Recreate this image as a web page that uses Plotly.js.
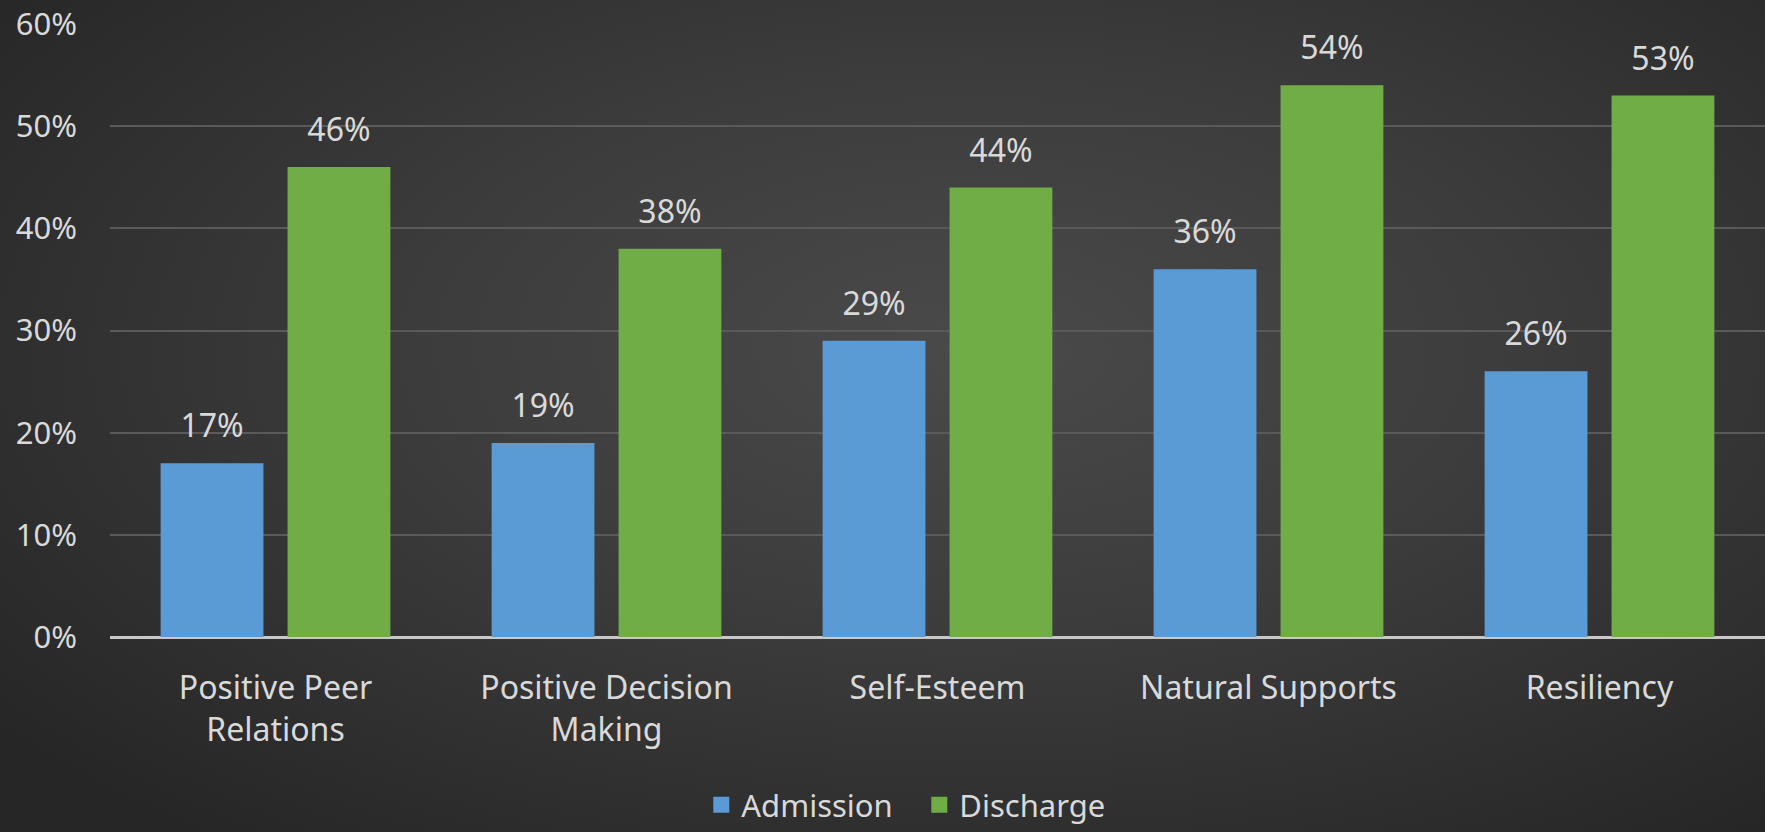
<!DOCTYPE html>
<html>
<head>
<meta charset="utf-8">
<script src="https://cdn.plot.ly/plotly-3.0.1.min.js"></script>
<style>
  html, body { margin: 0; padding: 0; background: #2a2a2a; }
  #chart {
    width: 1765px; height: 832px;
    background: radial-gradient(ellipse 70% 75% at 55% 42%, #4a4a4a 0%, #3c3c3c 45%, #2e2e2e 80%, #262626 100%);
  }
</style>
</head>
<body>
<div id="chart"></div>
<script>
const categories = ["Positive Peer<br>Relations", "Positive Decision<br>Making", "Self-Esteem", "Natural Supports", "Resiliency"];
const seriesNames = ["Admission", "Discharge"];
const admission = [17, 19, 29, 36, 26];
const discharge = [46, 38, 44, 54, 53];
const tickValues = [0, 10, 20, 30, 40, 50, 60];
const tickLabels = ["0%", "10%", "20%", "30%", "40%", "50%", "60%"];

const FONT = "Noto Sans, Open Sans, sans-serif";
const TXT = "#d9d9d9";
const COLORS = ["#5b9bd5", "#70ad47"];
const series = [admission, discharge];

const traces = [];
// bars
series.forEach((vals, i) => {
  traces.push({
    type: "bar", name: seriesNames[i], x: categories, y: vals,
    marker: { color: COLORS[i] },
    showlegend: false, hoverinfo: "skip"
  });
});
// data labels (grouped scatter text aligned with the bars)
series.forEach((vals, i) => {
  traces.push({
    type: "scatter", mode: "markers+text", name: seriesNames[i] + " labels",
    x: categories, y: vals,
    text: vals.map(v => v + "%"),
    textposition: "top center",
    textfont: { family: FONT, size: 32, color: TXT },
    marker: { size: 27, opacity: 0, color: COLORS[i] },
    cliponaxis: false, showlegend: false, hoverinfo: "skip"
  });
});
// legend entries
series.forEach((vals, i) => {
  traces.push({
    type: "scatter", mode: "markers", name: seriesNames[i],
    x: [null], y: [null], xaxis: "x2", yaxis: "y2",
    marker: { symbol: "square", size: 20, color: COLORS[i] },
    showlegend: true, hoverinfo: "skip"
  });
});

const layout = {
  width: 1765, height: 832,
  paper_bgcolor: "rgba(0,0,0,0)",
  plot_bgcolor: "rgba(0,0,0,0)",
  margin: { l: 110, r: 0, t: 24, b: 191 },
  barmode: "group",
  bargap: 0.233,
  bargroupgap: 0.19,
  scattermode: "group",
  scattergap: 0.233,
  font: { family: FONT, size: 31, color: TXT },
  showlegend: true,
  legend: {
    orientation: "h", x: 0.489, xanchor: "center", y: -0.275, yanchor: "middle",
    font: { family: FONT, size: 31, color: TXT },
    itemsizing: "trace", bgcolor: "rgba(0,0,0,0)",
    entrywidth: 173, entrywidthmode: "pixels"
  },
  xaxis: {
    type: "category",
    tickfont: { family: FONT, size: 32, color: TXT },
    showgrid: false, showline: false, ticks: "",
    ticklabelstandoff: 29,
    fixedrange: true
  },
  yaxis: {
    range: [0, 60],
    tickvals: tickValues, ticktext: tickLabels,
    tickfont: { family: FONT, size: 31, color: TXT },
    showgrid: true, gridcolor: "#5a5a5a", gridwidth: 2,
    zeroline: true, zerolinecolor: "#c8c8c8", zerolinewidth: 3,
    showline: false, ticks: "",
    ticklabelstandoff: 32,
    fixedrange: true
  },
  xaxis2: { overlaying: "x", visible: false, fixedrange: true },
  yaxis2: { overlaying: "y", visible: false, fixedrange: true }
};

Plotly.newPlot("chart", traces, layout, { displayModeBar: false, staticPlot: true });
</script>
</body>
</html>
